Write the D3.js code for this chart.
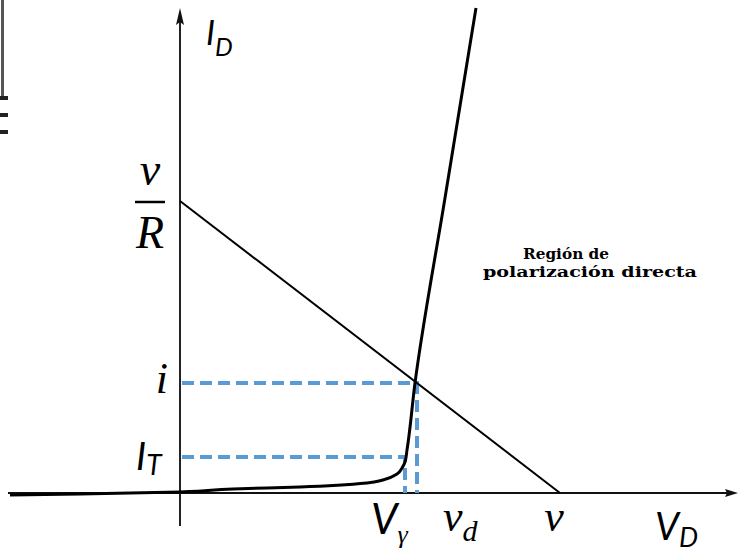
<!DOCTYPE html>
<html>
<head>
<meta charset="utf-8">
<script src="https://cdn.jsdelivr.net/npm/d3@7"></script>
<style>
  html, body { margin: 0; padding: 0; background: #fff; }
  svg { display: block; }
  .serif { font-family: "Liberation Serif", "DejaVu Serif", serif; font-style: italic; }
  .sans { font-family: Lato, "Open Sans", "Noto Sans", sans-serif; font-style: italic; }
  .note { font-family: "DejaVu Serif", "Liberation Serif", serif; font-weight: bold; }
</style>
</head>
<body>
<svg id="chart" width="743" height="556"></svg>
<script>
// Diode characteristic (V_D, I_D) in arbitrary units
const diodeV = [-1.70, -1.00, 0.00, 0.53, 1.20, 1.87, 2.03, 2.17, 2.22, 2.25, 2.27, 2.35, 2.65, 2.96];
const diodeI = [-0.02, -0.01, 0.01, 0.04, 0.06, 0.10, 0.13, 0.19, 0.25, 0.31, 0.43, 1.10, 2.95, 4.85];

// Load line: intercepts v (on V_D) and v/R (on I_D)
const sourceV = 3.80;
const shortI = 2.92;

// Operating point and threshold
const Vgamma = 2.25, IT = 0.36;
const vd = 2.37, iQ = 1.10;

// Axis labels
const axisLabels = { yAxis: ["I", "D"], xAxis: ["V", "D"] };

const svg = d3.select("#chart");
const x = d3.scaleLinear().domain([-1.80, 5.63]).range([0, 743]);
const y = d3.scaleLinear().domain([0, 4.93]).range([493, 0]);

// Scanned-page edge marks at the far left
const edge = svg.append("g").attr("fill", "#222").attr("stroke", "none");
edge.append("rect").attr("x", 1).attr("y", 0).attr("width", 3).attr("height", 98).attr("fill", "#555");
[96, 113, 130].forEach(v => edge.append("rect").attr("x", 0).attr("y", v).attr("width", 8).attr("height", 4));

// Axes
svg.append("line")
  .attr("x1", x(-1.72)).attr("x2", x(5.50))
  .attr("y1", y(0)).attr("y2", y(0))
  .attr("stroke", "#111").attr("stroke-width", 2);
svg.append("path")
  .attr("d", `M${x(5.58)},${y(0)} L${x(5.45)},${y(0) - 4} L${x(5.47)},${y(0)} L${x(5.45)},${y(0) + 4} Z`)
  .attr("fill", "#111");

svg.append("line")
  .attr("x1", x(0)).attr("x2", x(0))
  .attr("y1", y(-0.33)).attr("y2", y(4.75))
  .attr("stroke", "#222").attr("stroke-width", 2);
svg.append("path")
  .attr("d", `M${x(0)},${y(4.85)} L${x(0) - 4},${y(4.68)} L${x(0)},${y(4.71)} L${x(0) + 4},${y(4.68)} Z`)
  .attr("fill", "#111");

// Dashed guides to the operating point and to the threshold
const guides = svg.append("g")
  .attr("stroke", "#5b9bd5").attr("stroke-width", 4)
  .attr("stroke-dasharray", "12,6").attr("fill", "none");
guides.append("path").attr("d", `M${x(0) + 2},${y(iQ)} H${x(vd)} V${y(0)}`);
guides.append("path").attr("d", `M${x(0) + 2},${y(IT)} H${x(Vgamma)} V${y(0)}`);

// Load line
svg.append("line")
  .attr("x1", x(0)).attr("y1", y(shortI))
  .attr("x2", x(sourceV)).attr("y2", y(0))
  .attr("stroke", "#000").attr("stroke-width", 2);

// Diode curve
const pts = diodeV.map((v, k) => [v, diodeI[k]]);
svg.append("path")
  .datum(pts)
  .attr("d", d3.line().x(d => x(d[0])).y(d => y(d[1])).curve(d3.curveMonotoneY))
  .attr("fill", "none").attr("stroke", "#000").attr("stroke-width", 3)
  .attr("stroke-linejoin", "round");

// Labels
const yl = svg.append("text").attr("class", "sans").attr("x", x(0) + 26).attr("y", 45).attr("font-size", 34);
yl.append("tspan").text(axisLabels.yAxis[0]);
yl.append("tspan").attr("dy", 11).attr("font-size", 25).text(axisLabels.yAxis[1]);

const xl = svg.append("text").attr("class", "sans").attr("x", 655).attr("y", 540).attr("font-size", 38);
xl.append("tspan").text(axisLabels.xAxis[0]);
xl.append("tspan").attr("dy", 7).attr("font-size", 27).text(axisLabels.xAxis[1]);

// v / R fraction
svg.append("text").attr("class", "serif").attr("x", x(0) - 30).attr("y", 185)
  .attr("text-anchor", "middle").attr("font-size", 46).text("v");
svg.append("line").attr("x1", x(0) - 45).attr("x2", x(0) - 15)
  .attr("y1", 202).attr("y2", 202).attr("stroke", "#000").attr("stroke-width", 2.5);
svg.append("text").attr("class", "serif").attr("x", x(0) - 30).attr("y", 248)
  .attr("text-anchor", "middle").attr("font-size", 46).text("R");

svg.append("text").attr("class", "serif").attr("x", x(0) - 12).attr("y", y(iQ) + 10)
  .attr("text-anchor", "end").attr("font-size", 44).text("i");

const itl = svg.append("text").attr("class", "sans").attr("x", 136).attr("y", 470).attr("font-size", 38);
itl.append("tspan").text("I");
itl.append("tspan").attr("dy", 5).attr("font-size", 28).text("T");

const vgl = svg.append("text").attr("class", "sans").attr("x", 371).attr("y", 534).attr("font-size", 42);
vgl.append("tspan").text("V");
vgl.append("tspan").attr("class", "serif").attr("dy", 9).attr("font-size", 26).text("γ");

const vdl = svg.append("text").attr("class", "serif").attr("x", 443).attr("y", 531).attr("font-size", 44);
vdl.append("tspan").text("v");
vdl.append("tspan").attr("dy", 10).attr("font-size", 30).text("d");

svg.append("text").attr("class", "serif").attr("x", x(sourceV) - 6).attr("y", 531)
  .attr("text-anchor", "middle").attr("font-size", 44).text("v");

// Region note
svg.append("text").attr("class", "note").attr("x", 523).attr("y", 259)
  .attr("font-size", 15).attr("textLength", 86).attr("lengthAdjust", "spacingAndGlyphs")
  .text("Región de");
svg.append("text").attr("class", "note").attr("x", 483).attr("y", 277)
  .attr("font-size", 15).attr("textLength", 214).attr("lengthAdjust", "spacingAndGlyphs")
  .text("polarización directa");
</script>
</body>
</html>
